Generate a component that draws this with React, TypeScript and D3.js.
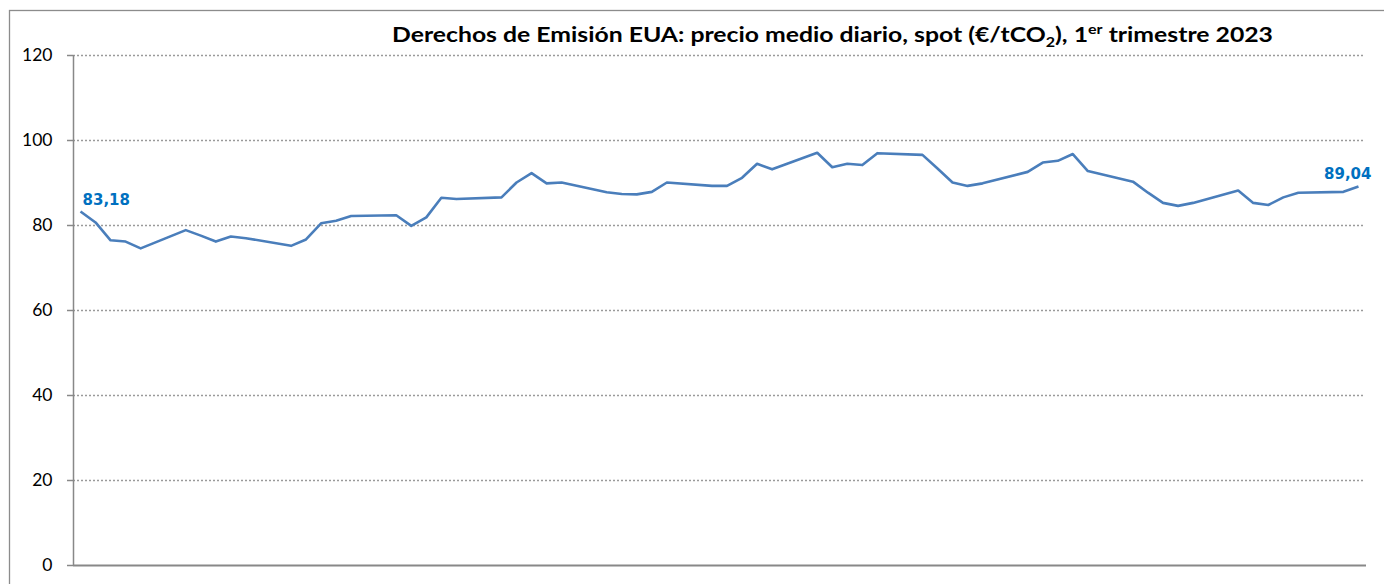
import React from "react";
import * as d3 from "d3";

const dates: string[] = [
  "2023-01-02","2023-01-03","2023-01-04","2023-01-05","2023-01-06",
  "2023-01-09","2023-01-10","2023-01-11","2023-01-12","2023-01-13",
  "2023-01-16","2023-01-17","2023-01-18","2023-01-19","2023-01-20",
  "2023-01-23","2023-01-24","2023-01-25","2023-01-26","2023-01-27",
  "2023-01-30","2023-01-31","2023-02-01","2023-02-02","2023-02-03",
  "2023-02-06","2023-02-07","2023-02-08","2023-02-09","2023-02-10",
  "2023-02-13","2023-02-14","2023-02-15","2023-02-16","2023-02-17",
  "2023-02-20","2023-02-21","2023-02-22","2023-02-23","2023-02-24",
  "2023-02-27","2023-02-28","2023-03-01","2023-03-02","2023-03-03",
  "2023-03-06","2023-03-07","2023-03-08","2023-03-09","2023-03-10",
  "2023-03-13","2023-03-14","2023-03-15","2023-03-16","2023-03-17",
  "2023-03-20","2023-03-21","2023-03-22","2023-03-23","2023-03-24",
  "2023-03-27","2023-03-28",
];

const prices: number[] = [
  83.18, 80.6, 76.4, 76.1, 74.5,
  78.8, 77.5, 76.1, 77.3, 76.9,
  75.1, 76.6, 80.4, 81.0, 82.1,
  82.3, 79.8, 81.8, 86.4, 86.1,
  86.5, 90.0, 92.2, 89.8, 90.0,
  87.7, 87.3, 87.2, 87.8, 90.0,
  89.2, 89.2, 91.1, 94.4, 93.1,
  97.0, 93.6, 94.4, 94.1, 96.9,
  96.5, 93.3, 90.0, 89.2, 89.8,
  92.5, 94.7, 95.1, 96.7, 92.7,
  90.2, 87.6, 85.2, 84.5, 85.2,
  88.1, 85.2, 84.7, 86.5, 87.6,
  87.8, 89.04,
];

const yTicks: number[] = [0, 20, 40, 60, 80, 100, 120];
const firstLabel = "83,18";
const lastLabel = "89,04";

export default function App() {
  const parse = d3.utcParse("%Y-%m-%d");
  const pts = dates.map((d, i) => ({ date: parse(d) as Date, v: prices[i] }));
  const half = 12 * 3600 * 1000;
  const first = pts[0].date;
  const last = pts[pts.length - 1].date;

  const left = 73, right = 1366, top = 55, bottom = 565;
  const x = d3.scaleUtc()
    .domain([new Date(first.getTime() - half), new Date(last.getTime() + half)])
    .range([left, right]);
  const y = d3.scaleLinear().domain([0, 120]).range([bottom, top]);

  const line = d3.line<{ date: Date; v: number }>()
    .x(d => x(d.date))
    .y(d => y(d.v));

  const p0 = pts[0];
  const pN = pts[pts.length - 1];

  return (
    <svg width={1384} height={584} style={{ position: "absolute", left: 0, top: 0 }}>
      <rect x={0} y={0} width={1384} height={584} fill="#fff" />
      <rect x={9.5} y={10.5} width={1420} height={620} fill="none" stroke="#8c8c8c" strokeWidth={1.3} />
      {yTicks.filter(t => t > 0).map(t => (
        <line key={"g" + t} x1={left} x2={1364} y1={Math.round(y(t)) + 0.5} y2={Math.round(y(t)) + 0.5}
          stroke="#9a9a9a" strokeWidth={1.6} strokeDasharray="2 2" />
      ))}
      {yTicks.map(t => (
        <g key={"t" + t}>
          <line x1={67} x2={left} y1={Math.round(y(t)) + 0.5} y2={Math.round(y(t)) + 0.5} stroke="#888" strokeWidth={1.5} />
          <text x={52.5} y={y(t)} dy="0.35em" textAnchor="end"
            style={{ fontFamily: "Lato, 'Liberation Sans', sans-serif", fontSize: 17.5 }} fill="#000">{t}</text>
        </g>
      ))}
      <line x1={left + 0.5} x2={left + 0.5} y1={top} y2={bottom} stroke="#888" strokeWidth={1.5} />
      <line x1={left} x2={right} y1={bottom + 0.5} y2={bottom + 0.5} stroke="#888" strokeWidth={2} />
      <path d={line(pts) || ""} fill="none" stroke="#4a7ebb" strokeWidth={2.6} strokeLinejoin="round" />
      <text x={x(p0.date) + 2} y={y(p0.v) - 6}
        style={{ fontFamily: "'DejaVu Sans', Verdana, sans-serif", fontSize: 15, fontWeight: 700 }} fill="#0070c0">{firstLabel}</text>
      <text x={x(pN.date) + 13} y={y(pN.v) - 8} textAnchor="end"
        style={{ fontFamily: "'DejaVu Sans', Verdana, sans-serif", fontSize: 15, fontWeight: 700 }} fill="#0070c0">{lastLabel}</text>
      <text x={392} y={42} textLength={881} lengthAdjust="spacingAndGlyphs"
        style={{ fontFamily: "Lato, 'Liberation Sans', sans-serif", fontSize: 20, fontWeight: 700 }} fill="#000">
        <tspan>Derechos de Emisión EUA: precio medio diario, spot (€/tCO</tspan>
        <tspan fontSize={13} dy={5}>2</tspan>
        <tspan dy={-5}>), 1</tspan>
        <tspan fontSize={13} dy={-8}>er</tspan>
        <tspan dy={8}> trimestre 2023</tspan>
      </text>
    </svg>
  );
}
